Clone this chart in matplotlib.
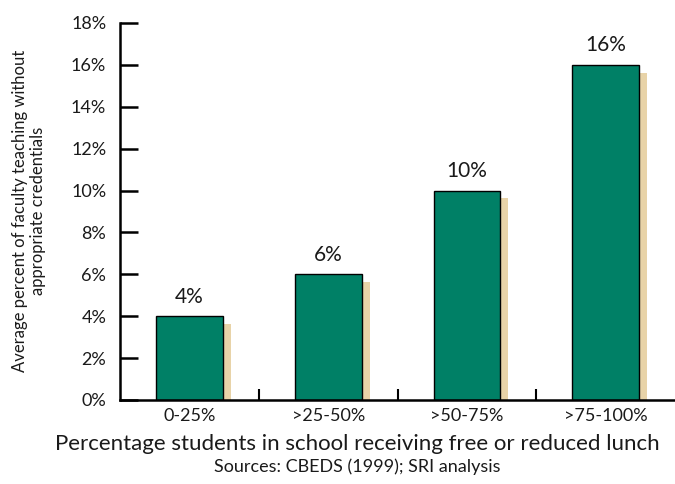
import matplotlib
matplotlib.use("Agg")
import matplotlib.pyplot as plt
import numpy as np

categories = ["0-25%", ">25-50%", ">50-75%", ">75-100%"]
values = [4, 6, 10, 16]
value_labels = ["4%", "6%", "10%", "16%"]
yticks = [0, 2, 4, 6, 8, 10, 12, 14, 16, 18]
ytick_labels = [f"{t}%" for t in yticks]

plt.rcParams['font.family'] = ['Lato', 'DejaVu Sans']

fig = plt.figure(figsize=(6.75, 4.84), dpi=100)
ax = fig.add_axes([0.178, 0.1736, 0.822, 0.779])

x = np.arange(len(categories))
w = 0.48
# shadow bars
ax.bar(x + 0.058, np.array(values) - 0.38, width=w, color="#e8d3a8", zorder=1)
ax.bar(x, values, width=w, color="#008066", edgecolor="black", linewidth=1.0, zorder=2)

for xi, v, lab in zip(x, values, value_labels):
    ax.text(xi, v + 0.45, lab, ha="center", va="bottom", fontsize=15, color="#1a1a1a")

ax.set_xlim(-0.5, len(categories) - 0.5)
ax.set_ylim(0, 18)
ax.set_yticks(yticks)
ax.set_yticklabels(ytick_labels, fontsize=13, color="#1a1a1a")
ax.set_xticks(x)
ax.set_xticklabels(categories, fontsize=13, color="#1a1a1a")
ax.set_xticks(np.arange(0.5, len(categories) - 0.5, 1), minor=True)
ax.tick_params(axis="x", which="major", length=0, pad=6)
ax.tick_params(axis="x", which="minor", direction="in", length=8, width=1.5)
ax.tick_params(axis="y", direction="in", length=13, width=1.8, pad=10)

for s in ["top", "right"]:
    ax.spines[s].set_visible(False)
ax.spines["left"].set_linewidth(1.8)
ax.spines["bottom"].set_linewidth(1.8)

fig.text(29 / 675, 1 - 211 / 484,
         "Average percent of faculty teaching without\nappropriate credentials",
         rotation=90, ha="center", va="center", fontsize=12, color="#1a1a1a",
         linespacing=1.1, multialignment="center")
fig.text(0.53, 0.083, "Percentage students in school receiving free or reduced lunch",
         ha="center", va="center", fontsize=16, color="#1a1a1a")
fig.text(0.53, 0.035, "Sources: CBEDS (1999); SRI analysis",
         ha="center", va="center", fontsize=13, color="#1a1a1a")

fig.savefig("out.png", dpi=100)
